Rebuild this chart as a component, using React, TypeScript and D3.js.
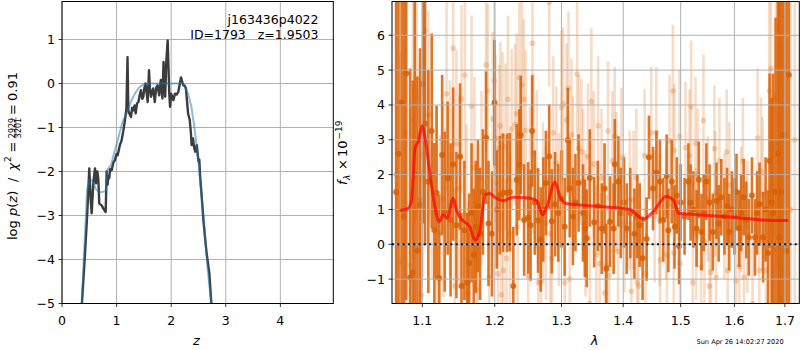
import React from "react";
import * as d3 from "d3";

const FONT = "DejaVu Sans, sans-serif";

// ---------- left panel: log p(z) ----------
const zTicks = [0, 1, 2, 3, 4];
const logpTicks = [-5, -4, -3, -2, -1, 0, 1];
// [z, log p] dark curve
const pzDark: [number, number][] = [
  [0.36, -5.1], [0.42, -3.9], [0.463, -2.95], [0.5, -1.93], [0.526, -2.65], [0.544, -2.95], [0.573, -2.27],
  [0.604, -1.93], [0.623, -2.27], [0.647, -2.0], [0.665, -2.16], [0.683, -2.73], [0.727, -2.77], [0.76, -2.85],
  [0.8, -2.92], [0.818, -2.0], [0.835, -2.3], [0.85, -2.1], [0.866, -2.15], [0.88, -1.95], [0.91, -1.97],
  [0.94, -1.8], [0.97, -1.74], [1.0, -1.6], [1.02, -1.63], [1.06, -1.4], [1.09, -1.3], [1.12, -1.1],
  [1.154, -0.83], [1.18, -0.57], [1.2, 0.6], [1.215, -0.61], [1.24, -0.7], [1.264, -0.76], [1.285, -0.55],
  [1.306, -0.61], [1.33, -0.5], [1.35, -0.68], [1.375, -0.45], [1.4, -0.42], [1.425, -0.25], [1.447, -0.15],
  [1.47, -0.35], [1.49, -0.3], [1.51, -0.1], [1.53, 0.0], [1.55, -0.2], [1.57, -0.42], [1.594, 0.3],
  [1.61, -0.1], [1.63, -0.3], [1.65, -0.2], [1.67, -0.11], [1.7, -0.42], [1.725, -0.1], [1.75, -0.04],
  [1.78, -0.27], [1.81, 0.08], [1.84, -0.34], [1.86, 0.49], [1.89, -0.3], [1.91, 0.49], [1.936, 0.98],
  [1.965, -0.23], [1.98, -0.53], [2.0, -0.23], [2.04, -0.38], [2.07, -0.23], [2.1, -0.25], [2.13, -0.19],
  [2.16, 0.0], [2.18, 0.14], [2.2, 0.05], [2.22, -0.04], [2.25, -0.05], [2.27, -0.11], [2.29, -0.4],
  [2.31, -0.68], [2.34, -0.83], [2.36, -1.1], [2.375, -1.4], [2.4, -1.25], [2.42, -1.45], [2.44, -1.55],
  [2.47, -1.4], [2.5, -1.77], [2.515, -1.73], [2.53, -2.1], [2.56, -2.58], [2.59, -3.1], [2.62, -3.5],
  [2.65, -3.86], [2.7, -4.32], [2.74, -5.1],
];
// [z, log p] smooth blue curve
const pzBlue: [number, number][] = [
  [0.36, -5.1], [0.4, -4.0], [0.43, -3.2], [0.46, -2.42], [0.5, -2.2], [0.55, -2.2], [0.58, -2.28],
  [0.62, -2.4], [0.665, -2.45], [0.72, -2.47], [0.78, -2.45], [0.81, -2.42], [0.82, -1.97], [0.86, -1.92],
  [0.9, -1.85], [0.95, -1.6], [1.0, -1.38], [1.03, -1.25], [1.08, -1.0], [1.12, -0.83], [1.154, -0.76],
  [1.18, -0.7], [1.215, -0.57], [1.26, -0.42], [1.306, -0.3], [1.35, -0.2], [1.4, -0.11], [1.45, -0.05],
  [1.52, -0.02], [1.6, 0.0], [1.76, 0.0], [2.07, 0.0], [2.16, 0.0], [2.2, 0.02], [2.25, -0.08],
  [2.31, -0.23], [2.37, -0.53], [2.42, -0.95], [2.47, -1.45], [2.51, -1.9], [2.56, -2.6], [2.61, -3.3],
  [2.66, -4.1], [2.7, -4.6], [2.75, -5.1],
];

// ---------- right panel: spectrum ----------
const lamTicks = [1.1, 1.2, 1.3, 1.4, 1.5, 1.6, 1.7];
const fluxTicks = [-1, 0, 1, 2, 3, 4, 5, 6];
// [lambda, flux, err] strong series
const specDark: [number, number, number][] = [
  [1.066, 1.5, 8], [1.069, 2.6, 8], [1.073, 4.07, 7], [1.076, 0.8, 7], [1.079, 4.9, 6.5], [1.084, -0.95, 6],
  [1.0875, -0.8, 5.5], [1.09, 2.0, 5], [1.0935, -0.18, 5], [1.097, 1.13, 4.5], [1.101, 4.6, 4], [1.1036, 3.47, 3.5],
  [1.108, 1.8, 3.2], [1.1125, 3.25, 2.8], [1.116, 0.41, 2.5], [1.119, 1.48, 2.5], [1.1225, -0.97, 2.4],
  [1.1265, 2.56, 2.3], [1.13, 0.94, 2.3], [1.134, 1.9, 2.2], [1.138, 0.7, 2.2], [1.1415, 2.3, 2.2],
  [1.146, 0.55, 2.1], [1.151, 2.52, 2.1], [1.153, -1.2, 2.1], [1.157, 0.4, 2.0], [1.161, -1.1, 2.0],
  [1.1637, -0.54, 2.0], [1.167, 0.9, 2.0], [1.17, -0.3, 1.9], [1.173, 0.5, 1.9], [1.176, 1.1, 1.9],
  [1.179, 0.3, 1.9], [1.183, 1.5, 1.8], [1.1875, 3.06, 1.9], [1.191, 0.6, 1.8], [1.196, 0.3, 1.8],
  [1.1995, 4.06, 1.8], [1.203, 1.0, 1.7], [1.2073, 1.41, 1.7], [1.212, 1.48, 1.7], [1.218, 1.48, 1.7],
  [1.222, 1.5, 1.7], [1.227, -1.2, 1.7], [1.232, 1.85, 1.6], [1.236, 2.28, 1.6], [1.238, 3.14, 1.7],
  [1.243, 0.7, 1.6], [1.249, 0.76, 1.6], [1.2527, 0.55, 1.6], [1.255, 3.25, 1.6], [1.259, 1.2, 1.5],
  [1.264, 0.68, 1.5], [1.268, 0.14, 1.5], [1.272, 1.0, 1.5], [1.276, 1.76, 1.5], [1.281, 2.52, 1.5],
  [1.285, 0.66, 1.5], [1.29, 1.15, 1.5], [1.295, 0.9, 1.4], [1.3, 1.3, 1.4], [1.305, 0.5, 1.4],
  [1.31, 2.99, 1.5], [1.313, 1.6, 1.4], [1.318, 0.8, 1.4], [1.322, 1.2, 1.4], [1.327, 1.76, 1.4],
  [1.334, 0.9, 1.4], [1.337, 0.46, 1.4], [1.34, 0.17, 1.4], [1.345, 1.9, 1.4], [1.352, 0.63, 1.3],
  [1.358, 1.1, 1.3], [1.3645, 0.45, 1.3], [1.369, 1.6, 1.3], [1.372, -0.7, 1.3], [1.378, 0.65, 1.3],
  [1.384, 0.45, 1.3], [1.386, 2.3, 1.3], [1.392, 1.8, 1.3], [1.396, 0.9, 1.3], [1.401, 1.2, 1.3],
  [1.406, 0.45, 1.3], [1.412, 0.9, 1.3], [1.419, 0.3, 1.3], [1.424, 0.8, 1.2], [1.428, 0.55, 1.2],
  [1.433, -0.4, 1.2], [1.44, 0.15, 1.2], [1.444, 2.5, 1.2], [1.451, 1.6, 1.2], [1.457, 2.06, 1.2],
  [1.463, 1.8, 1.2], [1.469, 0.7, 1.2], [1.475, 1.95, 1.2], [1.478, 0.4, 1.2], [1.484, 1.8, 1.2],
  [1.489, 0.5, 1.2], [1.493, 1.4, 1.1], [1.497, -0.05, 1.1], [1.5, 1.2, 1.1], [1.507, 0.8, 1.1],
  [1.514, 1.8, 1.1], [1.518, 1.2, 1.1], [1.523, 1.0, 1.1], [1.529, 0.45, 1.1], [1.533, 1.85, 1.1],
  [1.538, 0.35, 1.1], [1.542, 0.9, 1.1], [1.547, 1.8, 1.1], [1.553, 1.2, 1.1], [1.559, 0.35, 1.1],
  [1.566, 1.25, 1.1], [1.57, 0.6, 1.1], [1.575, 1.35, 1.1], [1.581, 0.8, 1.1], [1.586, 1.1, 1.1],
  [1.59, 0.35, 1.1], [1.595, 1.0, 1.1], [1.6, 0.8, 1.1], [1.604, 1.5, 1.1], [1.609, 0.45, 1.1],
  [1.613, 0.9, 1.1], [1.618, 1.35, 1.1], [1.623, 0.7, 1.1], [1.628, 0.2, 1.1], [1.634, 1.4, 1.1],
  [1.64, 0.2, 1.1], [1.644, 0.9, 1.2], [1.649, 1.15, 1.2], [1.656, 0.2, 1.3], [1.661, 1.0, 1.5],
  [1.666, -0.25, 1.8], [1.669, 2.4, 2.5], [1.673, 1.2, 3], [1.676, 0.9, 4], [1.681, 1.5, 5],
  [1.686, 2.6, 6], [1.689, 0.2, 7], [1.693, 1.5, 8], [1.697, 3.14, 8], [1.703, -0.2, 8], [1.708, 4.86, 8],
];
// [lambda, flux, err] faint series
const specLight: [number, number, number][] = [
  [1.066, 2.0, 6], [1.071, -0.5, 6], [1.078, 3.2, 5], [1.084, -0.6, 4.5], [1.0875, 3.57, 4], [1.0904, 4.45, 3.8],
  [1.0926, 4.2, 3.5], [1.097, 1.27, 3.5], [1.099, -1.46, 3.5], [1.101, 2.56, 3.5], [1.1036, 6.13, 3.2],
  [1.108, 3.71, 3], [1.113, 2.0, 3], [1.119, 0.98, 3], [1.1236, 0.32, 2.8], [1.128, 1.29, 2.8],
  [1.1325, 4.32, 2.8], [1.137, 1.9, 2.8], [1.1415, 5.63, 2.8], [1.1435, -1.2, 2.8], [1.146, 2.88, 2.7],
  [1.15, 1.6, 2.7], [1.153, 4.16, 2.7], [1.1577, 4.86, 2.7], [1.16, 0.84, 2.6], [1.162, -1.4, 2.6],
  [1.167, 3.97, 2.6], [1.171, 2.2, 2.6], [1.174, -1.3, 2.6], [1.176, 0.32, 2.5], [1.181, 1.9, 2.5],
  [1.1875, 5.15, 2.5], [1.19, 4.4, 2.5], [1.192, -0.95, 2.5], [1.197, 3.6, 2.5], [1.1995, 4.7, 2.5],
  [1.201, 3.04, 2.4], [1.2028, 1.75, 2.4], [1.2045, -0.85, 2.4], [1.2063, 2.75, 2.4], [1.208, 3.4, 2.4],
  [1.2095, -1.45, 2.4], [1.2112, 3.11, 2.4], [1.2125, -0.75, 2.4], [1.2155, 2.8, 2.4], [1.217, -0.4, 2.3],
  [1.219, 4.16, 2.4], [1.222, 0.3, 2.3], [1.2245, 3.31, 2.3], [1.2295, 3.44, 2.3], [1.232, 3.75, 2.3],
  [1.2335, 0.5, 2.3], [1.236, 4.79, 2.4], [1.2397, 4.57, 2.4], [1.2426, 4.16, 2.3], [1.2455, 3.27, 2.3],
  [1.2491, -0.9, 2.3], [1.2516, 1.65, 2.3], [1.2555, 5.77, 2.4], [1.257, 2.6, 2.3], [1.262, 2.13, 2.3],
  [1.2642, -1.1, 2.3], [1.2685, -1.1, 2.3], [1.2715, 1.2, 2.3], [1.276, 0.6, 2.2], [1.281, 6.94, 2.4],
  [1.2825, 0.3, 2.2], [1.285, -0.4, 2.2], [1.2872, 3.2, 2.2], [1.292, 2.33, 2.2], [1.296, 1.0, 2.2],
  [1.2999, 3.93, 2.2], [1.3025, 4.03, 2.2], [1.3052, -1.1, 2.2], [1.3078, 3.57, 2.2], [1.311, 4.48, 2.2],
  [1.313, -1.0, 2.2], [1.3157, 3.14, 2.2], [1.3183, 2.04, 2.2], [1.3247, 4.89, 2.2], [1.3275, 2.75, 2.1],
  [1.3315, 2.65, 2.1], [1.3343, 1.8, 2.1], [1.338, 0.6, 2.1], [1.342, 2.52, 2.1], [1.345, -1.7, 2.1],
  [1.3475, 4.1, 2.1], [1.3514, 2.3, 2.1], [1.3557, -0.3, 2.0], [1.3584, 3.4, 2.0], [1.3611, -0.55, 2.0],
  [1.364, 1.9, 2.0], [1.3693, -1.4, 2.0], [1.372, -0.6, 2.0], [1.3748, 3.25, 2.0], [1.3765, -0.9, 2.0],
  [1.3819, 2.4, 2.0], [1.3858, 3.1, 2.0], [1.3886, 1.8, 2.0], [1.3914, -0.2, 2.0], [1.3969, 2.5, 2.0],
  [1.402, 0.6, 2.0], [1.4109, 1.27, 2.0], [1.4137, -1.35, 2.0], [1.4175, 1.27, 2.0], [1.4222, 1.9, 2.0],
  [1.4236, -1.1, 2.0], [1.426, -1.2, 2.0], [1.4365, 2.55, 1.9], [1.438, -0.85, 1.9], [1.448, 3.2, 1.9],
  [1.4538, 0.8, 1.9], [1.4567, 3.2, 1.9], [1.4625, 0.7, 1.9], [1.4635, -0.45, 1.9], [1.474, 0.9, 1.9],
  [1.4755, -0.3, 1.9], [1.4801, 2.97, 1.9], [1.4861, 4.4, 1.9], [1.4875, -0.25, 1.9], [1.489, 2.7, 1.9],
  [1.4979, 3.1, 1.9], [1.499, -0.55, 1.9], [1.5087, 2.77, 1.9], [1.516, 2.55, 1.9], [1.519, 3.95, 1.9],
  [1.522, -1.1, 1.9], [1.5269, 2.9, 1.9], [1.5282, 0.3, 1.9], [1.5311, 2.0, 1.9], [1.5373, -0.65, 1.9],
  [1.5416, 3.55, 1.9], [1.5434, 0.1, 1.9], [1.5496, 1.3, 1.8], [1.5527, -1.2, 1.8], [1.5558, -0.8, 1.8],
  [1.562, 2.75, 1.8], [1.5635, 1.45, 1.8], [1.5651, -0.95, 1.8], [1.5714, 2.4, 1.8], [1.5808, 0.8, 1.8],
  [1.5852, 2.65, 1.8], [1.587, -0.75, 1.8], [1.5903, 1.7, 1.8], [1.6031, -1.05, 1.8], [1.6095, -0.63, 1.8],
  [1.6128, 1.0, 1.8], [1.6164, 2.4, 1.8], [1.6185, -0.95, 1.8], [1.625, 0.5, 1.9], [1.6353, -1.7, 1.9],
  [1.6451, 3.05, 2.0], [1.6485, -0.75, 2.0], [1.6518, 2.1, 2.1], [1.655, 1.45, 2.2], [1.6617, -0.75, 2.5],
  [1.6683, 4.4, 3], [1.6717, 5.05, 3.5], [1.675, 0.35, 4], [1.6784, -0.15, 4.5], [1.6817, 4.2, 5],
  [1.685, 2.9, 5.5], [1.6884, 2.4, 6], [1.6919, 4.0, 6.5], [1.6935, -0.7, 6.5], [1.6986, 0.9, 7],
  [1.705, 2.0, 8], [1.712, 1.0, 8], [1.72, 3.0, 8],
];
// [lambda, flux] model
const model: [number, number][] = [
  [1.072, 0.98], [1.081, 1.02], [1.086, 1.27], [1.0904, 2.75], [1.0948, 2.95], [1.1, 3.4], [1.1036, 3.05],
  [1.1125, 1.65], [1.117, 1.05], [1.1225, 0.65], [1.128, 0.85], [1.1333, 0.75], [1.1415, 1.32], [1.146, 0.98],
  [1.153, 0.72], [1.1647, 0.5], [1.1717, 0.12], [1.179, 0.41], [1.186, 1.42], [1.193, 1.46], [1.2, 1.35],
  [1.2123, 1.25], [1.2269, 1.35], [1.2518, 1.32], [1.2619, 1.25], [1.271, 0.84], [1.2771, 1.07], [1.2899, 1.78],
  [1.2977, 1.37], [1.3056, 1.18], [1.3293, 1.13], [1.4114, 1.0], [1.4343, 0.72], [1.4516, 0.94], [1.4741, 1.37],
  [1.4871, 1.27], [1.4961, 0.89], [1.53, 0.85], [1.591, 0.78], [1.656, 0.7], [1.704, 0.68],
];

const fmt = (t: number, d = 0) => (t < 0 ? "\u2212" : "") + Math.abs(t).toFixed(d);

export default function App() {
  const top = 1.5, bottom = 303.5;
  const xL = d3.scaleLinear().domain([0, 4.97]).range([62, 333.3]);
  const yL = d3.scaleLinear().domain([-5, 1.864]).range([bottom, top]);
  const xR = d3.scaleLog().domain([1.0607, 1.7296]).range([392, 799.3]);
  const yR = d3.scaleLinear().domain([-1.7, 6.97]).range([bottom, top]);

  const lineL = d3.line<[number, number]>().x(d => xL(d[0])).y(d => yL(d[1]));
  const lineM = d3.line<[number, number]>().x(d => xR(d[0])).y(d => yR(d[1])).curve(d3.curveMonotoneX);

  const orange = "#d95f02";
  const grid = "#b0b0b0";
  const fs = 12.5;

  return (
    <svg width={800} height={350} style={{ position: "absolute", left: 0, top: 0, background: "#fff" }} fontFamily={FONT}>
      <defs>
        <clipPath id="clipL"><rect x={62} y={top} width={333.3 - 62} height={bottom - top} /></clipPath>
        <clipPath id="clipR"><rect x={392} y={top} width={799.3 - 392} height={bottom - top} /></clipPath>
      </defs>
      <rect x={0} y={0} width={800} height={350} fill="#fff" />

      {/* ---------- LEFT PANEL ---------- */}
      <g>
        {zTicks.map(t => (
          <line key={"gx" + t} x1={xL(t)} x2={xL(t)} y1={top} y2={bottom} stroke={grid} strokeWidth={1} />
        ))}
        {logpTicks.map(t => (
          <line key={"gy" + t} x1={62} x2={333.3} y1={yL(t)} y2={yL(t)} stroke={grid} strokeWidth={1} />
        ))}
        <g clipPath="url(#clipL)">
          <path d={lineL(pzDark) || ""} fill="none" stroke="#3c3c3c" strokeWidth={2.4} strokeLinejoin="round" />
          <path d={lineL(pzBlue) || ""} fill="none" stroke="#1f77b4" strokeOpacity={0.5} strokeWidth={2} strokeLinejoin="round" />
        </g>
        <rect x={62} y={top} width={333.3 - 62} height={bottom - top} fill="none" stroke="#000" strokeWidth={1} />
        {zTicks.map(t => (
          <g key={"tx" + t}>
            <line x1={xL(t)} x2={xL(t)} y1={bottom} y2={bottom + 3.5} stroke="#000" strokeWidth={0.8} />
            <text x={xL(t)} y={324.5} fontSize={fs} textAnchor="middle">{fmt(t)}</text>
          </g>
        ))}
        {logpTicks.map(t => (
          <g key={"ty" + t}>
            <line x1={62} x2={58.5} y1={yL(t)} y2={yL(t)} stroke="#000" strokeWidth={0.8} />
            <text x={55} y={yL(t) + 4.5} fontSize={fs} textAnchor="end">{fmt(t)}</text>
          </g>
        ))}
        <text x={318.5} y={24} fontSize={12.5} textAnchor="end">j163436p4022</text>
        <text x={318.5} y={38.5} fontSize={12.5} textAnchor="end" style={{ whiteSpace: "pre" }}>{"ID=1793   z=1.9503"}</text>
        <text x={196.5} y={345} fontSize={13} fontStyle="italic" textAnchor="middle">z</text>
        {/* y label: log p(z) / chi^2 = 2929/3201 = 0.91 */}
        <g transform="translate(16.7,155) rotate(-90)" fontSize={13}>
          <text x={-85} y={0}>log</text>
          <text x={-61} y={0}>
            <tspan fontStyle="italic">p</tspan>
            <tspan>(</tspan>
            <tspan fontStyle="italic">z</tspan>
            <tspan>)</tspan>
          </text>
          <text x={-27} y={0}>/</text>
          <text x={-15.5} y={0} fontStyle="italic">χ</text>
          <text x={-7} y={-5.5} fontSize={9}>2</text>
          <text x={2.5} y={0}>=</text>
          <text x={27} y={-2} fontSize={8} textAnchor="middle">2929</text>
          <line x1={16.5} x2={37.5} y1={-0.8} y2={-0.8} stroke="#000" strokeWidth={0.6} />
          <text x={27} y={4.6} fontSize={8} textAnchor="middle">3201</text>
          <text x={40} y={0}>=</text>
          <text x={54} y={0}>0.91</text>
        </g>
      </g>

      {/* ---------- RIGHT PANEL ---------- */}
      <g>
        <g clipPath="url(#clipR)">
          {specLight.map((d, i) => (
            <line key={"le" + i} x1={xR(d[0])} x2={xR(d[0])} y1={yR(d[1] - d[2])} y2={yR(d[1] + d[2])}
              stroke={orange} strokeOpacity={0.22} strokeWidth={2.6} />
          ))}
          {specLight.map((d, i) => (
            <circle key={"lp" + i} cx={xR(d[0])} cy={yR(d[1])} r={2.8} fill={orange} fillOpacity={0.25} />
          ))}
          {specDark.map((d, i) => (
            <line key={"de" + i} x1={xR(d[0])} x2={xR(d[0])} y1={yR(d[1] - d[2])} y2={yR(d[1] + d[2])}
              stroke={orange} strokeOpacity={0.85} strokeWidth={2.6} />
          ))}
          {specDark.map((d, i) => (
            <circle key={"dp" + i} cx={xR(d[0])} cy={yR(d[1])} r={3} fill={orange} fillOpacity={0.85} />
          ))}
        </g>
        {lamTicks.map(t => (
          <line key={"rgx" + t} x1={xR(t)} x2={xR(t)} y1={top} y2={bottom} stroke={grid} strokeWidth={1} />
        ))}
        {fluxTicks.map(t => (
          <line key={"rgy" + t} x1={392} x2={799.3} y1={yR(t)} y2={yR(t)} stroke={grid} strokeWidth={1} />
        ))}
        <line x1={392} x2={799.3} y1={yR(0)} y2={yR(0)} stroke="#111" strokeWidth={2} strokeDasharray="2,3.3" />
        <g clipPath="url(#clipR)">
          <path d={lineM(model) || ""} fill="none" stroke="#ff0000" strokeOpacity={0.7} strokeWidth={3}
            strokeLinejoin="round" strokeLinecap="round" />
        </g>
        <rect x={392} y={top} width={799.3 - 392} height={bottom - top} fill="none" stroke="#000" strokeWidth={1} />
        {lamTicks.map(t => (
          <g key={"rtx" + t}>
            <line x1={xR(t)} x2={xR(t)} y1={bottom} y2={bottom + 3.5} stroke="#000" strokeWidth={0.8} />
            <text x={xR(t)} y={324.5} fontSize={fs} textAnchor="middle">{fmt(t, 1)}</text>
          </g>
        ))}
        {fluxTicks.map(t => (
          <g key={"rty" + t}>
            <line x1={392} x2={388.5} y1={yR(t)} y2={yR(t)} stroke="#000" strokeWidth={0.8} />
            <text x={385} y={yR(t) + 4.5} fontSize={fs} textAnchor="end">{fmt(t)}</text>
          </g>
        ))}
        <text x={594.5} y={345} fontSize={13} fontStyle="italic" textAnchor="middle">λ</text>
        {/* y label: f_lambda x 10^-19 */}
        <g transform="translate(347,153) rotate(-90)" fontSize={13}>
          <text x={-32} y={0} fontStyle="italic">f</text>
          <text x={-27} y={3} fontSize={9} fontStyle="italic">λ</text>
          <text x={-17} y={0}>×</text>
          <text x={-4} y={0}>10</text>
          <text x={13.5} y={-5.5} fontSize={9}>−19</text>
        </g>
        <text x={696.5} y={344} fontSize={6.6}>Sun Apr 26 14:02:27 2020</text>
      </g>
    </svg>
  );
}
